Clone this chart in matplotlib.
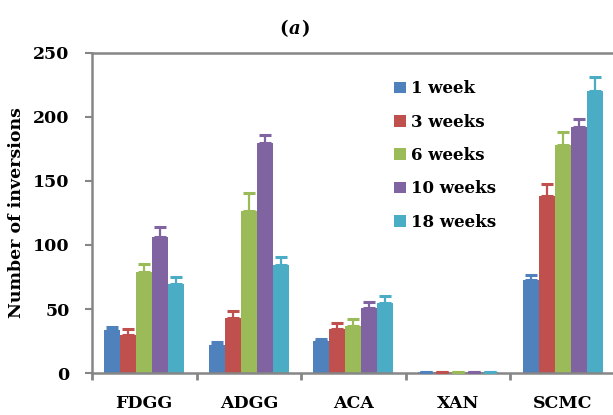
import numpy as np
import matplotlib.pyplot as plt

# podaci ocitani sa slike
categories = ['FDGG', 'ADGG', 'ACA', 'XAN', 'SCMC']
series = ['1 week', '3 weeks', '6 weeks', '10 weeks', '18 weeks']
colors = ['#4F81BD', '#C0504D', '#9BBB59', '#8064A2', '#4BACC6']

week1 = [33.6, 21.9, 25.0, 0.6, 72.7]
week3 = [29.7, 43.0, 34.4, 0.6, 138.3]
week6 = [79.0, 126.5, 36.7, 0.6, 178.0]
week10 = [106.0, 179.7, 50.8, 0.6, 192.0]
week18 = [69.5, 84.4, 55.0, 0.6, 220.0]

err1 = [2.6, 2.1, 1.3, 0.0, 3.6]
err3 = [4.3, 5.4, 4.6, 0.0, 9.4]
err6 = [6.0, 14.5, 5.3, 0.0, 10.0]
err10 = [8.0, 6.3, 4.4, 0.0, 6.4]
err18 = [5.5, 6.6, 5.4, 0.0, 11.5]

values = [week1, week3, week6, week10, week18]
errors = [err1, err3, err6, err10, err18]

plt.rcParams['font.family'] = 'DejaVu Serif'
plt.rcParams['font.weight'] = 'bold'

fig = plt.figure(figsize=(6.13, 4.15), dpi=100)
ax = fig.add_axes([0.150, 0.1012, 0.853, 0.7711])

x = np.arange(len(categories))
w = 0.153
for i in range(len(series)):
    pos = x + (i - 2) * w
    ax.bar(pos, values[i], width=w, color=colors[i], label=series[i], zorder=2)
    ax.errorbar(pos, values[i], yerr=[np.zeros(len(x)), errors[i]], fmt='none',
                ecolor=colors[i], elinewidth=1.6, capsize=4.5, capthick=2.2, zorder=3)

ax.set_xlim(-0.5, 4.5)
ax.set_ylim(0, 250)
ax.set_yticks(np.arange(0, 251, 50))
ax.set_xticks(x)
ax.set_xticklabels(categories, fontsize=12.5, fontweight='bold')
ax.set_xticks(np.arange(-0.5, 4.6, 1), minor=True)
ax.tick_params(axis='x', which='major', length=0, pad=16)
ax.tick_params(axis='x', which='minor', length=5, width=2, color='#868686')
ax.tick_params(axis='y', length=5, width=1.5, color='#868686', labelsize=12.5, pad=11)
for lab in ax.get_yticklabels():
    lab.set_fontweight('bold')

for s in ['left', 'bottom', 'top']:
    ax.spines[s].set_color('#868686')
    ax.spines[s].set_linewidth(1.8)
ax.spines['right'].set_visible(False)

ax.set_ylabel('Number of inversions', fontsize=12.5, fontweight='bold', labelpad=6)

ax.legend(loc='upper left', bbox_to_anchor=(0.565, 0.935), frameon=False,
          fontsize=12, handlelength=0.7, handleheight=0.7, handletextpad=0.3,
          labelspacing=0.98, borderaxespad=0)

# naslov (a) sa kurzivnim slovom
t_a = fig.text(0.481, 0.930, 'a', fontsize=13, fontweight='bold', style='italic',
               ha='center', va='center')
fig.text(0.481 - 0.012, 0.930, '(', fontsize=13, fontweight='bold', ha='right', va='center')
fig.text(0.481 + 0.011, 0.930, ')', fontsize=13, fontweight='bold', ha='left', va='center')

fig.savefig('out.png', dpi=100)
